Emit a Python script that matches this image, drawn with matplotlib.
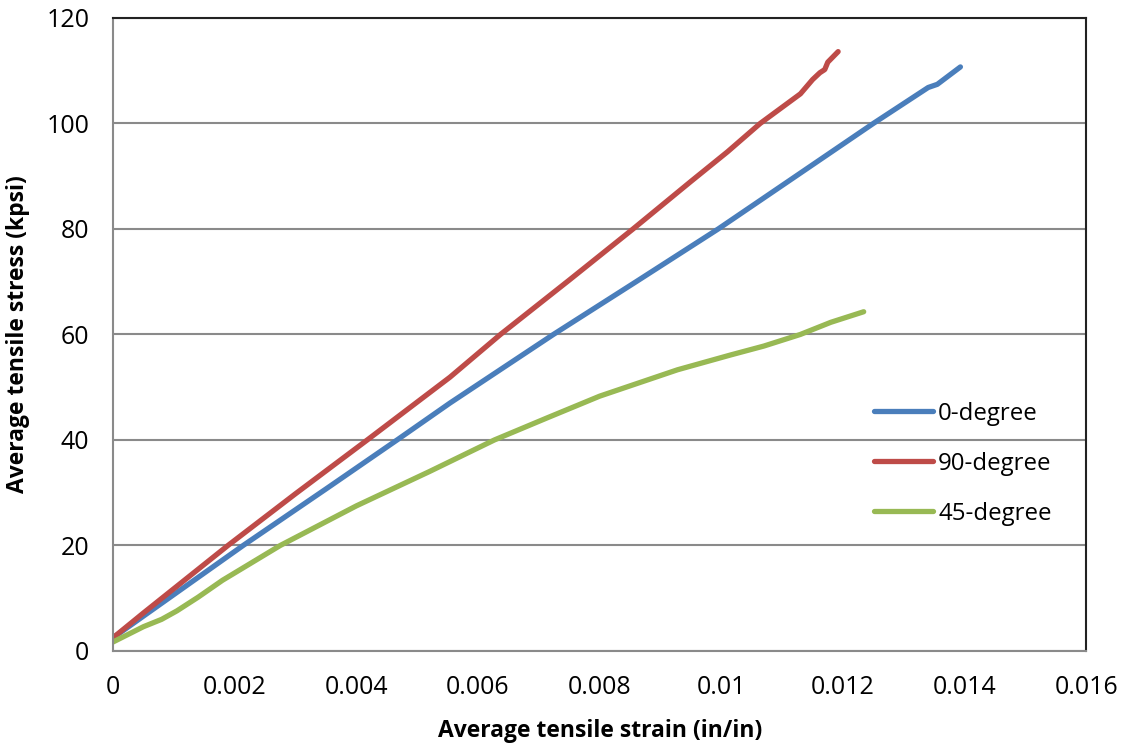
import matplotlib.pyplot as plt

# strain (in/in) and stress (kpsi)
strain_0 = [0, 0.0005, 0.00214, 0.0035, 0.00467, 0.00554, 0.00724, 0.0086, 0.00995,
            0.0112, 0.0125, 0.0134, 0.01355, 0.01393]
stress_0 = [2.5, 6.6, 20, 30.7, 40, 47, 60, 70, 80,
            89.8, 100, 106.8, 107.4, 110.7]

strain_90 = [0, 0.0005, 0.00189, 0.003, 0.00418, 0.00554, 0.00637, 0.0075, 0.00855,
             0.0095, 0.0101, 0.0102, 0.01064, 0.0113, 0.0115, 0.01162, 0.0117,
             0.01175, 0.01192]
stress_90 = [2.5, 7.2, 20, 29.8, 40, 51.9, 60, 70.3, 80,
             89, 94.6, 95.6, 100, 105.6, 108.3, 109.6, 110.2, 111.6, 113.6]

strain_45 = [0, 0.0005, 0.0008, 0.00105, 0.0014, 0.0018, 0.00275, 0.004, 0.0052,
             0.00627, 0.00714, 0.008, 0.00928, 0.01015, 0.0107, 0.0113, 0.0118, 0.01234]
stress_45 = [1.7, 4.6, 6.0, 7.6, 10.2, 13.4, 20, 27.5, 34,
             40, 44.2, 48.3, 53.3, 56.1, 57.8, 60, 62.3, 64.3]

labels = ["0-degree", "90-degree", "45-degree"]
colors = ["#4A7EBB", "#BE4B48", "#98B954"]

plt.rcParams['font.family'] = ['Open Sans', 'DejaVu Sans']

fig = plt.figure(figsize=(11.24, 7.44), dpi=100)
ax = fig.add_axes([0.1005, 0.125, 0.866, 0.851])

series = [(strain_0, stress_0), (strain_90, stress_90), (strain_45, stress_45)]
for (x, y), lab, c in zip(series, labels, colors):
    ax.plot(x, y, color=c, lw=3.8, label=lab, solid_capstyle='round',
            solid_joinstyle='round')

ax.set_xlim(0, 0.016)
ax.set_ylim(0, 120)
ax.set_xticks([0, 0.002, 0.004, 0.006, 0.008, 0.01, 0.012, 0.014, 0.016])
ax.set_xticklabels(["0", "0.002", "0.004", "0.006", "0.008", "0.01", "0.012", "0.014", "0.016"])
ax.set_yticks(range(0, 121, 20))
ax.tick_params(length=0, labelsize=18)
ax.tick_params(axis='x', pad=17)
ax.tick_params(axis='y', pad=17)

ax.yaxis.grid(True, color='#8a8a8a', lw=1.5)
ax.set_axisbelow(True)
for side in ['left', 'bottom']:
    ax.spines[side].set_color('#8a8a8a')
    ax.spines[side].set_linewidth(1.5)
for side in ['top', 'right']:
    ax.spines[side].set_color('#222222')
    ax.spines[side].set_linewidth(1.5)

ax.set_xlabel("Average tensile strain (in/in)", fontsize=16.5, fontweight='bold', labelpad=14)
ax.set_ylabel("Average tensile stress (kpsi)", fontsize=16.5, fontweight='bold', labelpad=12)

leg = ax.legend(loc='center left', bbox_to_anchor=(0.76, 0.296), frameon=False,
                fontsize=17.3, handlelength=2.45, handletextpad=0.2, labelspacing=1.08)

fig.savefig("out.png", dpi=100, facecolor='white')
